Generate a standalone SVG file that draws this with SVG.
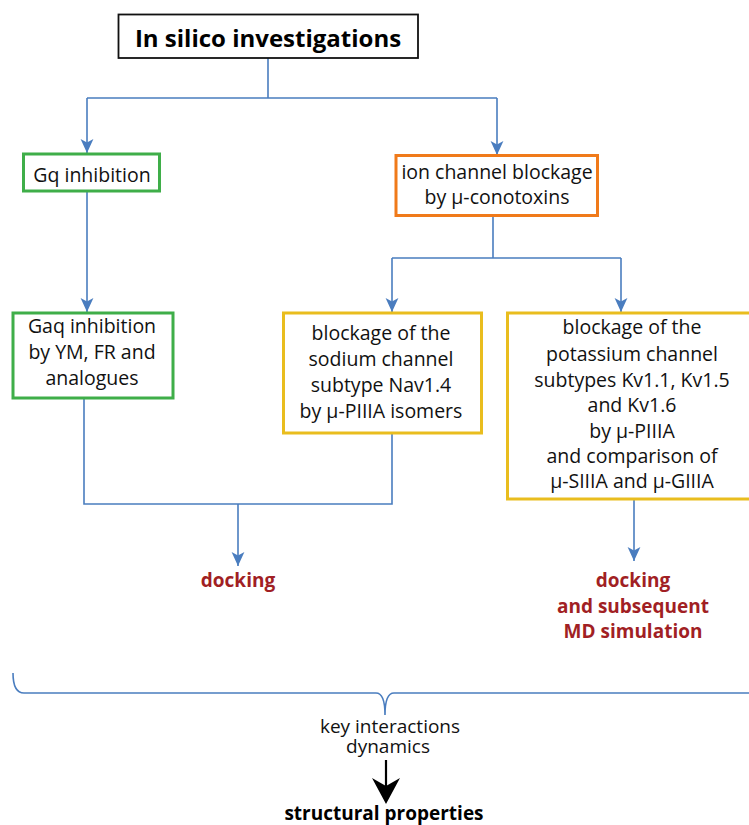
<svg xmlns="http://www.w3.org/2000/svg" width="749" height="825" viewBox="0 0 749 825">
<style>
.t{font-family:"Open Sans","Liberation Sans",sans-serif;font-size:19.5px;fill:#111;text-anchor:middle}
.s{font-size:19px}
.b{font-family:"Open Sans","Liberation Sans",sans-serif;font-size:19px;font-weight:bold;text-anchor:middle}
.red{fill:#a11f24}
.box{fill:#fff;stroke-width:3}
.c{fill:none;stroke:#4a7dbf;stroke-width:1.6}
</style>
<defs>
<marker id="ah" markerUnits="userSpaceOnUse" markerWidth="14" markerHeight="14" viewBox="0 0 12 12" refX="12" refY="6" orient="auto">
<path d="M0,0.5 L12,6 L0,11.5 L3,6 z" fill="#4a7dbf"/>
</marker>
</defs>
<rect width="749" height="825" fill="#fff"/>
<g id="connectors">
<path class="c" d="M268,58 V98 M87,98 H497"/>
<path class="c" d="M87,98 V153" marker-end="url(#ah)"/>
<path class="c" d="M497,98 V155" marker-end="url(#ah)"/>
<path class="c" d="M87,192 V312" marker-end="url(#ah)"/>
<path class="c" d="M493,216 V258 M392,258 H621"/>
<path class="c" d="M392,258 V312" marker-end="url(#ah)"/>
<path class="c" d="M621,258 V312" marker-end="url(#ah)"/>
<path class="c" d="M84,398 V504 H392 V433"/>
<path class="c" d="M238,504 V566" marker-end="url(#ah)"/>
<path class="c" d="M634,500 V561" marker-end="url(#ah)"/>
<path class="c" stroke-width="2" d="M13,673 Q13,693 24,693 H376 Q385,693 385,715 Q385,693 394,693 H749"/>
<path d="M386,760 V786" stroke="#000" stroke-width="2.2" fill="none"/>
<path d="M372,778 L386,786 L400,778 L386,804 z" fill="#000"/>
</g>
<g id="title">
<rect x="118.5" y="14.5" width="299.5" height="43.5" fill="#fff" stroke="#111" stroke-width="1.8"/>
<text class="b" x="268" y="47" style="font-size:24px" fill="#000">In silico investigations</text>
</g>
<g id="gq">
<rect class="box" x="23.5" y="154" width="136" height="37" stroke="#3fae49"/>
<text class="t" x="92" y="182">Gq inhibition</text>
</g>
<g id="ion">
<rect class="box" x="396" y="155.5" width="201.5" height="60" stroke="#f07a1a"/>
<text class="t" x="497" y="179">ion channel blockage</text>
<text class="t" x="497" y="204">by µ-conotoxins</text>
</g>
<g id="gaq">
<rect class="box" x="13" y="313" width="160" height="85" stroke="#3fae49"/>
<text class="t" x="92" y="333">Gaq inhibition</text>
<text class="t" x="92" y="359">by YM, FR and</text>
<text class="t" x="92" y="385">analogues</text>
</g>
<g id="sodium">
<rect class="box" x="283.5" y="313" width="198" height="120" stroke="#e9bd1e"/>
<text class="t" x="381" y="340">blockage of the</text>
<text class="t" x="381" y="366">sodium channel</text>
<text class="t" x="381" y="392">subtype Nav1.4</text>
<text class="t" x="381" y="418">by µ-PIIIA isomers</text>
</g>
<g id="potassium">
<rect class="box" x="507.5" y="313" width="250" height="186" stroke="#e9bd1e"/>
<text class="t" x="632" y="334">blockage of the</text>
<text class="t" x="632" y="361">potassium channel</text>
<text class="t" x="632" y="387">subtypes Kv1.1, Kv1.5</text>
<text class="t" x="632" y="412">and Kv1.6</text>
<text class="t" x="632" y="438">by µ-PIIIA</text>
<text class="t" x="632" y="463">and comparison of</text>
<text class="t" x="632" y="488">µ-SIIIA and µ-GIIIA</text>
</g>
<g id="docking1">
<text class="b red" x="238" y="587">docking</text>
</g>
<g id="docking2">
<text class="b red" x="633" y="587">docking</text>
<text class="b red" x="633" y="613">and subsequent</text>
<text class="b red" x="633" y="638">MD simulation</text>
</g>
<g id="key">
<text class="t s" x="390" y="733">key interactions</text>
<text class="t s" x="388" y="753">dynamics</text>
</g>
<g id="structural">
<text class="b" x="384" y="820" fill="#000">structural properties</text>
</g>
</svg>
